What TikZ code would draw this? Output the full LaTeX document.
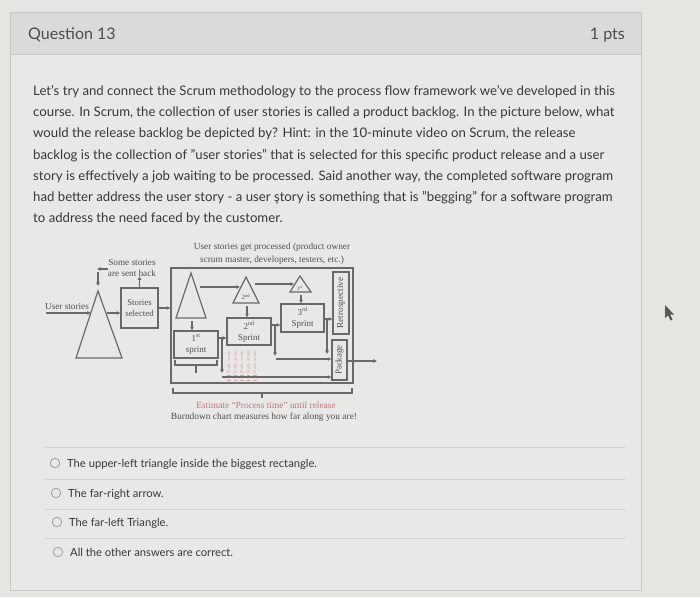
\documentclass[tikz,border=0pt]{standalone}
\usepackage{fontspec}
\setmainfont{Lato}[Ligatures=Common]
\newfontfamily\dg{Liberation Serif}
\usetikzlibrary{arrows.meta}
\definecolor{pagebg}{HTML}{E5E5E2}
\definecolor{cardbg}{HTML}{E8E8E6}
\definecolor{hdrbg}{HTML}{DADAD8}
\definecolor{cardline}{HTML}{C6C6C4}
\definecolor{txt}{HTML}{383838}
\definecolor{dl}{HTML}{696969}
\definecolor{dtx}{HTML}{505050}
\definecolor{pinkc}{HTML}{D8A0A0}
\definecolor{redt}{HTML}{C47878}
\definecolor{sepc}{HTML}{D2D2D0}
\begin{document}
\begin{tikzpicture}[x=1pt,y=-1pt,
  dline/.style={draw=dl,line width=1.2pt},
  darr/.style={dline,-{Triangle[length=3.6pt,width=3.4pt]}},
  dbox/.style={draw=dl,line width=1.2pt,inner sep=0pt},
  dtext/.style={font=\dg\fontsize{9}{11}\selectfont,text=dtx,align=center,inner sep=0pt},
  qtext/.style={text=txt,inner sep=0pt,anchor=base west},
  radio/.style={circle,draw=gray!75,line width=0.8pt,minimum size=9.5pt,inner sep=0pt},
  sepline/.style={draw=sepc,line width=0.8pt},
  pinktext/.style={font=\dg\fontsize{4.6}{5}\selectfont,text=pinkc,rotate=90,inner sep=0pt}
]
% page and card
\fill[pagebg] (0,0) rectangle (700,597);
\useasboundingbox (0,0) rectangle (700,597);
\filldraw[fill=cardbg,draw=cardline,line width=0.8pt] (10,12) rectangle (641,590);
\filldraw[fill=hdrbg,draw=cardline,line width=0.8pt] (10,12) rectangle (641,54);
\node[qtext,text=txt!90,font=\fontsize{16}{18}\selectfont] (qnum) at (28,39) {Question 13};
\node[qtext,text=txt!90,anchor=base east,font=\fontsize{16}{18}\selectfont] (pts) at (625,39) {1 pts};

% question text
\foreach \ln [count=\i from 0] in {%
{Let's try and connect the Scrum methodology to the process flow framework we've developed in this},
{course. In Scrum, the collection of user stories is called a product backlog. In the picture below, what},
{would the release backlog be depicted by? Hint: in the 10-minute video on Scrum, the release},
{backlog is the collection of "user stories" that is selected for this specific product release and a user},
{story is effectively a job waiting to be processed. Said another way, the completed software program},
{had better address the user story - a user ştory is something that is "begging" for a software program},
{to address the need faced by the customer.}}{
  \node[qtext,font=\fontsize{13.2}{16}\selectfont] (body\i) at (33,95.5+21.17*\i) {\ln};
}

% ===== diagram =====
% left triangle
\coordinate (tLa) at (98,291);
\coordinate (tLl) at (76,358);
\coordinate (tLr) at (122,358);
\draw[dline,line join=miter] (tLa) -- (tLl) -- (tLr) -- cycle;
\node[dtext,font=\dg\fontsize{9.2}{11}\selectfont] (us) at (67,306.5) {User stories};
\coordinate (usS) at (46,313);
\coordinate (tLin) at (91,313);
\draw[darr] (usS) -- (tLin);
\node[dbox,minimum width=37pt,minimum height=40pt] (ss) at (139.5,308) {};
\node[dtext,font=\dg\fontsize{8.8}{11}\selectfont] (sst) at (ss) {Stories\\selected};
\coordinate (tLout) at (107,313);
\draw[darr] (tLout) -- (ss.west |- tLout);
\node[dtext,font=\dg\fontsize{9.2}{11}\selectfont] (sb) at (132,267.5) {Some stories\\are sent back};
\draw[darr] (ss.north) -- (ss.north |- sb.south);
\coordinate (sbk) at (108,269);
\coordinate (sbc) at (97,269);
\coordinate (sbd) at (98,272);
\coordinate (tLtop) at (98,286);
\draw[darr] (sbk) -- (sbc);
\draw[darr] (sbd) -- (tLtop);

% big box
\node[dbox,minimum width=182pt,minimum height=115pt] (big) at (262,325.5) {};
\draw[darr] (ss.east) -- (ss.east -| big.west);
\node[dtext,font=\dg\fontsize{9.3}{12.5}\selectfont] (ttl) at (272,254) {User stories get processed (product owner\\scrum master, developers, testers, etc.)};

% inner triangles
\coordinate (t1a) at (191,273);
\coordinate (t1l) at (176,318);
\coordinate (t1r) at (206,318);
\draw[dline,line join=miter] (t1a) -- (t1l) -- (t1r) -- cycle;
\coordinate (t2a) at (246,277);
\coordinate (t2l) at (233,303);
\coordinate (t2r) at (259,303);
\draw[dline,line join=miter] (t2a) -- (t2l) -- (t2r) -- cycle;
\node[dtext,font=\dg\fontsize{6.4}{6.5}\selectfont] (t2lab) at (246,297) {2\textsuperscript{nd}};
\coordinate (t3a) at (300,276);
\coordinate (t3l) at (290,292);
\coordinate (t3r) at (311,292);
\draw[dline,line join=miter] (t3a) -- (t3l) -- (t3r) -- cycle;
\node[dtext,font=\dg\fontsize{4.8}{5}\selectfont] (t3lab) at (300,288.3) {3\textsuperscript{rd}};

% sprint boxes
\node[dbox,minimum width=44pt,minimum height=27pt] (s1) at (196,344.5) {};
\node[dtext] (s1t) at (s1) {1\textsuperscript{st}\\sprint};
\node[dbox,minimum width=44pt,minimum height=27pt] (s2) at (249,331.5) {};
\node[dtext] (s2t) at (s2) {2\textsuperscript{nd}\\Sprint};
\node[dbox,minimum width=43pt,minimum height=28pt] (s3) at (302.5,318) {};
\node[dtext] (s3t) at (s3) {3\textsuperscript{rd}\\Sprint};
\node[dbox,minimum width=16pt,minimum height=62pt] (retro) at (341,303) {};
\node[dtext,rotate=90,font=\dg\fontsize{9.2}{10}\selectfont] (retrot) at (retro) {Retrospective};
\node[dbox,minimum width=15pt,minimum height=40pt] (pkg) at (339.5,360) {};
\node[dtext,rotate=90,font=\dg\fontsize{9}{10}\selectfont] (pkgt) at (pkg) {Package};

% daily scrum columns
\foreach \xx/\nm in {229/d1,235.5/d2,242/d3,248.5/d4,255/d5}{
  \node[pinktext] (\nm) at (\xx,362) {Daily scrum};
  \draw[pinkc,line width=0.8pt] (\xx-1.6,375) -- (\xx+1.6,375) (\xx-1.6,380) -- (\xx+1.6,380);
}

% connectors inside
\coordinate (a1s) at (200,287);
\coordinate (a1e) at (240,287);
\draw[darr] (a1s) -- (a1e);
\coordinate (a2s) at (255,284);
\coordinate (a2e) at (294,284);
\draw[darr] (a2s) -- (a2e);
\coordinate (t3b) at (301,295);
\draw[darr] (t3b) -- (t3b |- s3.north);
\coordinate (t2b) at (247,306);
\draw[darr] (t2b) -- (t2b |- s2.north);
\coordinate (t1b) at (192,321);
\draw[darr] (t1b) -- (t1b |- s1.north);
\coordinate (c12) at (218,338);
\draw[darr] (c12) -- (c12 -| s2.west);
\coordinate (v1s) at (222,338);
\coordinate (v1e) at (222,373);
\draw[darr] (v1s) -- (v1e);
\coordinate (h1s) at (222,377);
\draw[darr] (h1s) -- (h1s -| pkg.west);
\coordinate (c23) at (271,325);
\draw[darr] (c23) -- (c23 -| s3.west);
\coordinate (v2s) at (275,325);
\coordinate (v2e) at (275,356);
\draw[darr] (v2s) -- (v2e);
\coordinate (h2s) at (276,359);
\draw[darr] (h2s) -- (h2s -| pkg.west);
\coordinate (c3r) at (324,319);
\draw[darr] (c3r) -- (c3r -| retro.west);
\coordinate (v3s) at (327,319);
\coordinate (v3e) at (327,354);
\draw[darr] (v3s) -- (v3e);
\coordinate (outS) at (347,361);
\coordinate (outE) at (377,361);
\draw[darr] (outS) -- (outE);

% brackets
\draw[dline] (175,360) -- (175,365) -- (217,365) -- (217,360);
\draw[dline] (196,365) -- (196,373);
\draw[dline] (173,388) -- (173,393) -- (352,393) -- (352,388);
\draw[dline] (262,393) -- (262,398);

\node[dtext,text=redt,font=\dg\fontsize{9.4}{11}\selectfont] (est) at (266,405) {Estimate “Process time” until release};
\node[dtext,font=\dg\fontsize{9.4}{11}\selectfont] (burn) at (264,417.5) {Burndown chart measures how far along you are!};

% ===== options =====
\draw[sepline] (45,447) -- (625,447);
\draw[sepline] (45,479) -- (625,479);
\draw[sepline] (45,509) -- (625,509);
\draw[sepline] (45,538) -- (625,538);
\node[radio] (r1) at (55,463) {};
\node[qtext,font=\fontsize{11.2}{13}\selectfont] (o1) at (67,467) {The upper-left triangle inside the biggest rectangle.};
\node[radio] (r2) at (56,493) {};
\node[qtext,font=\fontsize{11.2}{13}\selectfont] (o2) at (68,497) {The far-right arrow.};
\node[radio] (r3) at (57,522) {};
\node[qtext,font=\fontsize{11.2}{13}\selectfont] (o3) at (69,526) {The far-left Triangle.};
\node[radio] (r4) at (58,552) {};
\node[qtext,font=\fontsize{11.2}{13}\selectfont] (o4) at (70,556) {All the other answers are correct.};

% mouse cursor
\fill[black!65] (665,305) -- (665,318) -- (668,315.5) -- (670.5,320.5) -- (672.5,319.5) -- (670,314.5) -- (674,314.5) -- cycle;
\end{tikzpicture}
\end{document}
